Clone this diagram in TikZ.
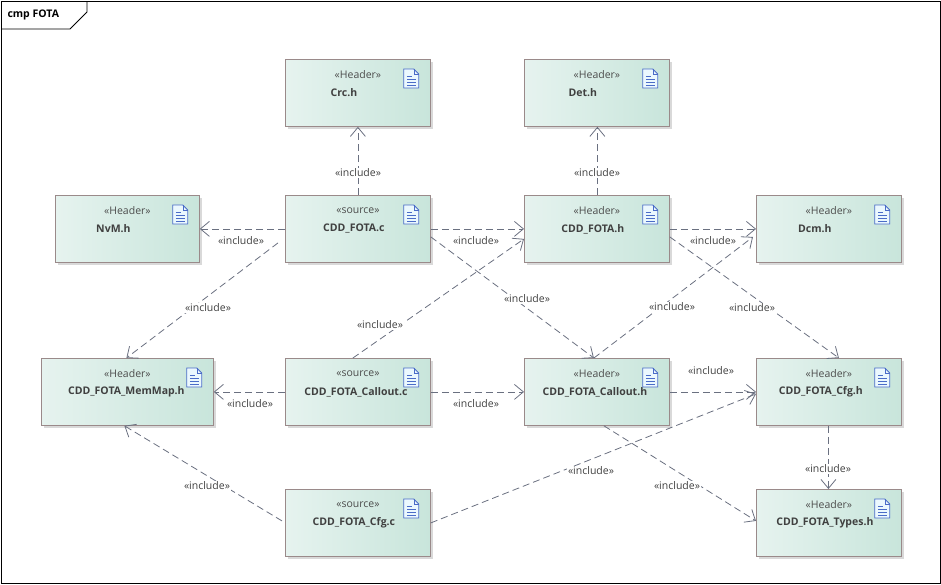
\documentclass[tikz,border=0pt]{standalone}
\usepackage{fontspec}
\setmainfont{Open Sans}
\usetikzlibrary{arrows.meta,shadows,calc}
\definecolor{bx}{HTML}{9A8A8A}
\definecolor{ln}{HTML}{6A7080}
\definecolor{ic}{HTML}{4A6CC8}
\definecolor{gl}{HTML}{E6F3EF}
\definecolor{gr}{HTML}{C8E5DB}
\begin{document}
\begin{tikzpicture}[x=1pt,y=-1pt,font=\fontsize{10.5}{12}\selectfont,
 box/.style={draw=bx,line width=0.8pt,left color=gl,right color=gr,minimum width=145pt,minimum height=67pt,inner sep=0pt,
   drop shadow={shadow xshift=3pt,shadow yshift=-3pt,fill=gray!50,opacity=0.6}},
 dep/.style={draw=ln,line width=0.8pt,dash pattern=on 7pt off 4pt,-{Straight Barb[length=9pt,width=15pt,line width=0.8pt]}},
 lab/.style={fill=white,inner sep=1pt,text=black!75},
 st/.style={text=black!70},
 nm/.style={text=black!75,font=\fontsize{10.5}{12}\selectfont\bfseries}]
\useasboundingbox (0,0) rectangle (941,584);
\draw[black,line width=0.8pt] (1,1) rectangle (940,583);
\draw[black,line width=0.8pt] (1,29) -- (70,29) -- (87,12) -- (87,1);
\node[anchor=west,font=\fontsize{10.5}{12}\selectfont\bfseries] (title) at (4,15) {cmp FOTA};
\newcommand{\comp}[7]{% name, x, y, width, stereo, label, name xshift
 \node[box,anchor=north west,minimum width=#4pt] (#1) at (#2,#3) {};
 \node[st] (#1s) at ($(#1.north)+(0,16)$) {\guillemotleft #5\guillemotright};
 \node[nm] (#1n) at ($(#1.north)+(#7,34)$) {#6};
 \begin{scope}[shift={(#1.north east)}]
  \draw[ic,fill=cyan!8,line width=0.8pt] (-27,10)--(-17,10)--(-12,15)--(-12,29)--(-27,29)--cycle;
  \draw[ic,line width=0.6pt] (-17,10)--(-17,15)--(-12,15);
  \draw[ic,line width=0.6pt] (-24,17)--(-19,17) (-24,20)--(-15,20) (-24,23)--(-15,23) (-24,26)--(-15,26);
 \end{scope}}
\comp{crc}{285}{59}{145}{Header}{Crc.h}{-14}
\comp{det}{524}{59}{145}{Header}{Det.h}{-14}
\comp{nvm}{55}{195}{144}{Header}{NvM.h}{-14}
\comp{fc}{285}{195}{145}{source}{CDD\_FOTA.c}{-4}
\comp{fh}{524}{195}{145}{Header}{CDD\_FOTA.h}{-4}
\comp{dcm}{756}{195}{145}{Header}{Dcm.h}{-14}
\comp{mm}{41}{358}{172}{Header}{CDD\_FOTA\_MemMap.h}{-1}
\comp{cc}{285}{358}{145}{source}{CDD\_FOTA\_Callout.c}{-2}
\comp{ch}{524}{358}{145}{Header}{CDD\_FOTA\_Callout.h}{-2}
\comp{gh}{756}{358}{145}{Header}{CDD\_FOTA\_Cfg.h}{-8}
\comp{gc}{285}{489}{145}{source}{CDD\_FOTA\_Cfg.c}{-4}
\comp{ty}{756}{489}{145}{Header}{CDD\_FOTA\_Types.h}{-4}
% connectors
\draw[dep] (fc.north) -- (crc.south);
\node[lab] (l1) at (358,173) {\guillemotleft include\guillemotright};
\draw[dep] (fc.west) -- (nvm.east);
\node[lab,fill=none] (l2) at (241,241) {\guillemotleft include\guillemotright};
\draw[dep] ($(fc.west)+(-7,14)$) -- ($(mm.north)+(-1,0)$);
\node[lab] (l3) at (208,308) {\guillemotleft include\guillemotright};
\draw[dep] (fc.east) -- (fh.west);
\node[lab,fill=none] (l4) at (476,241) {\guillemotleft include\guillemotright};
\draw[dep] ($(fc.east)+(0,8)$) -- ($(ch.north)+(-3,0)$);
\node[lab] (l5) at (527,299) {\guillemotleft include\guillemotright};
\draw[dep] ($(fh.north)+(0.5,0)$) -- ($(det.south)+(0.5,0)$);
\node[lab] (l6) at (597,173) {\guillemotleft include\guillemotright};
\draw[dep] (fh.east) -- (dcm.west);
\node[lab,fill=none] (l7) at (713,241) {\guillemotleft include\guillemotright};
\draw[dep] ($(fh.east)+(0,8)$) -- ($(gh.north)+(10,0)$);
\node[lab] (l8) at (752,308) {\guillemotleft include\guillemotright};
\draw[dep] ($(cc.north)+(-5,0)$) -- ($(fh.west)+(0,10)$);
\node[lab] (l9) at (380,325) {\guillemotleft include\guillemotright};
\draw[dep] (cc.west) -- (mm.east);
\node[lab,fill=none] (l10) at (250,404) {\guillemotleft include\guillemotright};
\draw[dep] (cc.east) -- (ch.west);
\node[lab,fill=none] (l11) at (476,404) {\guillemotleft include\guillemotright};
\draw[dep] ($(ch.north)+(-3,0)$) -- ($(dcm.west)+(-3,8)$);
\node[lab] (l12) at (672,307) {\guillemotleft include\guillemotright};
\draw[dep] (ch.east) -- (gh.west);
\node[lab,fill=none] (l13) at (711,371) {\guillemotleft include\guillemotright};
\draw[dep] ($(ch.south)+(7,0)$) -- ($(ty.west)+(0,-2)$);
\node[lab] (l14) at (677,486) {\guillemotleft include\guillemotright};
\draw[dep] ($(gh.south)+(-0.5,0)$) -- ($(ty.north)+(-0.5,0)$);
\node[lab] (l15) at (828,469) {\guillemotleft include\guillemotright};
\draw[dep] ($(gc.west)+(-3,-2)$) -- ($(mm.south)+(-3,0)$);
\node[lab] (l16) at (207,486) {\guillemotleft include\guillemotright};
\draw[dep] ($(gc.east)+(0,0)$) -- ($(gh.west)+(0,2)$);
\node[lab] (l17) at (591,471) {\guillemotleft include\guillemotright};
\end{tikzpicture}
\end{document}
